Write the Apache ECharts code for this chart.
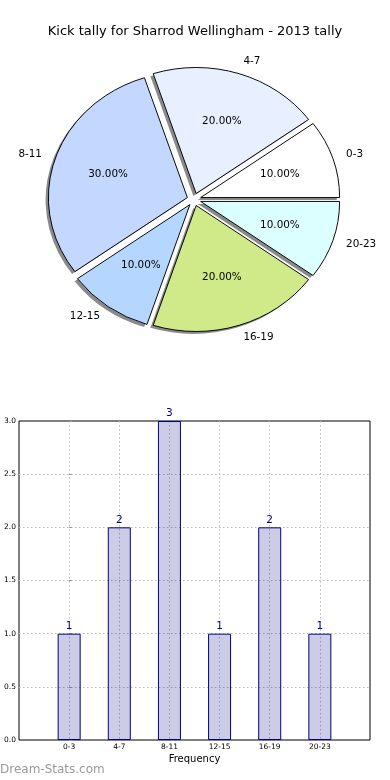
<!DOCTYPE html>
<html>
<head>
<meta charset="utf-8">
<script src="https://cdn.jsdelivr.net/npm/echarts@6/dist/echarts.min.js"></script>
<style>
html,body{margin:0;padding:0;background:#fff;}
#main{width:390px;height:780px;}
</style>
</head>
<body>
<div id="main"></div>
<script>
// ---- data ----
const categories = ['0-3', '4-7', '8-11', '12-15', '16-19', '20-23'];
const kicks = [1, 2, 3, 1, 2, 1];
const yTicks = [0, 0.5, 1, 1.5, 2, 2.5, 3];

// ---- styles / layout ----
const pieColors = ['#ffffff', '#e8f0ff', '#c4d8ff', '#b5d6ff', '#d0ea8a', '#dcffff'];
const FONT = '"DejaVu Sans", sans-serif';
const CX = 194, CY = 199.5, RX = 139, RY = 126, EXPLODE = 0.05;
const SHX = 2.8, SHY = 2.5;

const total = kicks.reduce((a, b) => a + b, 0);

function renderPie(params, api) {
  const i = params.dataIndex;
  let before = 0;
  for (let k = 0; k < i; k++) before += kicks[k];
  const v = api.value(0);
  const a1 = before / total * 2 * Math.PI;
  const a2 = (before + v) / total * 2 * Math.PI;
  const am = (a1 + a2) / 2;
  const cx = CX + EXPLODE * RX * Math.cos(am);
  const cy = CY - EXPLODE * RY * Math.sin(am);
  const sc = RY / RX;
  const shape = { cx: 0, cy: 0, r0: 0, r: RX, startAngle: -a2, endAngle: -a1, clockwise: true };
  const cos = Math.cos(am), sin = Math.sin(am);
  return {
    type: 'group',
    children: [
      { type: 'sector', x: cx - SHX, y: cy + SHY, scaleY: sc, z2: 0, shape: shape,
        style: { fill: '#8a8a8a' } },
      { type: 'sector', x: cx, y: cy, scaleY: sc, z2: 10, shape: shape,
        style: { fill: pieColors[i], stroke: '#000', lineWidth: 1, strokeNoScale: true } },
      { type: 'text', x: cx + 0.6 * RX * cos, y: cy - 0.6 * RY * sin, z2: 20,
        style: { text: (v / total * 100).toFixed(2) + '%', align: 'center', verticalAlign: 'middle',
                 font: '10.4px ' + FONT, fill: '#000' } },
      { type: 'text', x: cx + 1.1 * RX * cos, y: cy - 1.1 * RY * sin, z2: 20,
        style: { text: categories[i], align: cos >= 0 ? 'left' : 'right', verticalAlign: 'middle',
                 font: '10.4px ' + FONT, fill: '#000' } }
    ]
  };
}

const chart = echarts.init(document.getElementById('main'), null, { renderer: 'canvas' });
chart.setOption({
  animation: false,
  backgroundColor: '#fff',
  title: {
    text: 'Kick tally for Sharrod Wellingham - 2013 tally',
    left: 'center', top: 20,
    textStyle: { fontFamily: FONT, fontSize: 13, fontWeight: 'normal', color: '#000' }
  },
  grid: { left: 19, right: 20, top: 421, bottom: 40, show: true, borderColor: '#000', borderWidth: 1, backgroundColor: 'transparent' },
  xAxis: {
    type: 'value', min: -1, max: 6, interval: 1,
    axisLine: { show: false },
    axisTick: { show: false },
    axisLabel: {
      fontFamily: FONT, fontSize: 7.5, color: '#000', margin: 3,
      formatter: v => (v >= 0 && v < categories.length) ? categories[v] : ''
    },
    splitLine: { show: true, showMinLine: false, showMaxLine: false, lineStyle: { color: '#b8b8b8', type: [1.5, 2.5], width: 1 } },
    name: 'Frequency', nameLocation: 'middle', nameGap: 14,
    nameTextStyle: { fontFamily: FONT, fontSize: 10, color: '#000' }
  },
  yAxis: {
    type: 'value', min: yTicks[0], max: yTicks[yTicks.length - 1], interval: 0.5,
    axisLine: { show: false },
    axisTick: { show: true, inside: true, length: 3, lineStyle: { color: '#999' } },
    axisLabel: { fontFamily: FONT, fontSize: 7.5, color: '#000', margin: 3, formatter: v => v.toFixed(1) },
    splitLine: { show: true, showMinLine: false, showMaxLine: false, lineStyle: { color: '#b8b8b8', type: [1.5, 2.5], width: 1 } }
  },
  series: [
    {
      type: 'custom',
      coordinateSystem: 'none',
      renderItem: renderPie,
      data: kicks.map(v => [v])
    },
    {
      type: 'bar',
      data: kicks.map((v, i) => [i, v]),
      barWidth: 23,
      itemStyle: { color: 'rgba(0,0,128,0.2)', borderColor: '#000080', borderWidth: 1 },
      label: { show: true, position: 'top', distance: 2, color: '#000080', fontFamily: FONT, fontSize: 10.5 }
    }
  ],
  graphic: [
    { type: 'text', left: 0, top: 764,
      style: { text: 'Dream-Stats.com', font: '12px ' + FONT, fill: '#9a9a9a' } }
  ]
});
</script>
</body>
</html>
